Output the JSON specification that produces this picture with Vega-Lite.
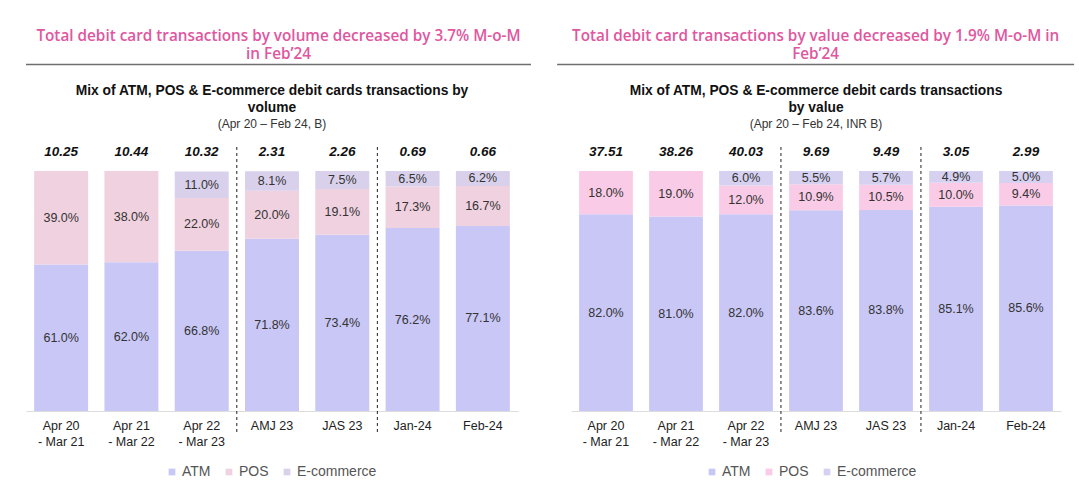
{
  "$schema": "https://vega.github.io/schema/vega-lite/v6.json",
  "background": "white",
  "padding": {"top": 28, "left": 25, "right": 6, "bottom": 5},
  "datasets": {
    "vol": [
      {"cat": "Apr 20 - Mar 21", "seg": "ATM", "share": 0.61},
      {"cat": "Apr 20 - Mar 21", "seg": "POS", "share": 0.39},
      {"cat": "Apr 21 - Mar 22", "seg": "ATM", "share": 0.62},
      {"cat": "Apr 21 - Mar 22", "seg": "POS", "share": 0.38},
      {"cat": "Apr 22 - Mar 23", "seg": "ATM", "share": 0.668},
      {"cat": "Apr 22 - Mar 23", "seg": "POS", "share": 0.22},
      {"cat": "Apr 22 - Mar 23", "seg": "E-commerce", "share": 0.11},
      {"cat": "AMJ 23", "seg": "ATM", "share": 0.718},
      {"cat": "AMJ 23", "seg": "POS", "share": 0.20},
      {"cat": "AMJ 23", "seg": "E-commerce", "share": 0.081},
      {"cat": "JAS 23", "seg": "ATM", "share": 0.734},
      {"cat": "JAS 23", "seg": "POS", "share": 0.191},
      {"cat": "JAS 23", "seg": "E-commerce", "share": 0.075},
      {"cat": "Jan-24", "seg": "ATM", "share": 0.762},
      {"cat": "Jan-24", "seg": "POS", "share": 0.173},
      {"cat": "Jan-24", "seg": "E-commerce", "share": 0.065},
      {"cat": "Feb-24", "seg": "ATM", "share": 0.771},
      {"cat": "Feb-24", "seg": "POS", "share": 0.167},
      {"cat": "Feb-24", "seg": "E-commerce", "share": 0.062}
    ],
    "volTot": [
      {"cat": "Apr 20 - Mar 21", "total": 10.25},
      {"cat": "Apr 21 - Mar 22", "total": 10.44},
      {"cat": "Apr 22 - Mar 23", "total": 10.32},
      {"cat": "AMJ 23", "total": 2.31},
      {"cat": "JAS 23", "total": 2.26},
      {"cat": "Jan-24", "total": 0.69},
      {"cat": "Feb-24", "total": 0.66}
    ],
    "val": [
      {"cat": "Apr 20 - Mar 21", "seg": "ATM", "share": 0.82},
      {"cat": "Apr 20 - Mar 21", "seg": "POS", "share": 0.18},
      {"cat": "Apr 21 - Mar 22", "seg": "ATM", "share": 0.81},
      {"cat": "Apr 21 - Mar 22", "seg": "POS", "share": 0.19},
      {"cat": "Apr 22 - Mar 23", "seg": "ATM", "share": 0.82},
      {"cat": "Apr 22 - Mar 23", "seg": "POS", "share": 0.12},
      {"cat": "Apr 22 - Mar 23", "seg": "E-commerce", "share": 0.06},
      {"cat": "AMJ 23", "seg": "ATM", "share": 0.836},
      {"cat": "AMJ 23", "seg": "POS", "share": 0.109},
      {"cat": "AMJ 23", "seg": "E-commerce", "share": 0.055},
      {"cat": "JAS 23", "seg": "ATM", "share": 0.838},
      {"cat": "JAS 23", "seg": "POS", "share": 0.105},
      {"cat": "JAS 23", "seg": "E-commerce", "share": 0.057},
      {"cat": "Jan-24", "seg": "ATM", "share": 0.851},
      {"cat": "Jan-24", "seg": "POS", "share": 0.10},
      {"cat": "Jan-24", "seg": "E-commerce", "share": 0.049},
      {"cat": "Feb-24", "seg": "ATM", "share": 0.856},
      {"cat": "Feb-24", "seg": "POS", "share": 0.094},
      {"cat": "Feb-24", "seg": "E-commerce", "share": 0.05}
    ],
    "valTot": [
      {"cat": "Apr 20 - Mar 21", "total": 37.51},
      {"cat": "Apr 21 - Mar 22", "total": 38.26},
      {"cat": "Apr 22 - Mar 23", "total": 40.03},
      {"cat": "AMJ 23", "total": 9.69},
      {"cat": "JAS 23", "total": 9.49},
      {"cat": "Jan-24", "total": 3.05},
      {"cat": "Feb-24", "total": 2.99}
    ],
    "seps": [
      {"cat": "Apr 22 - Mar 23"},
      {"cat": "JAS 23"}
    ],
    "line": [{"k": 0}]
  },
  "hconcat": [
    {
      "spacing": 18,
      "vconcat": [
        {
          "width": 505, "height": 1,
          "title": {"text": ["Total debit card transactions by volume decreased by 3.7% M-o-M", "in Feb\u201924"], "color": "#e0579f", "font": "Open Sans", "fontSize": 15.3, "fontWeight": 600, "lineHeight": 18.5, "anchor": "middle", "offset": 1},
          "data": {"name": "line"},
          "mark": {"type": "rule", "color": "#6e6e6e", "strokeWidth": 1.5},
          "encoding": {"y": {"field": "k", "type": "quantitative", "axis": null}}
        },
        {
          "width": 492, "height": 264,
          "title": {"text": ["Mix of ATM, POS & E-commerce debit cards transactions by", "volume"], "subtitle": "(Apr 20 \u2013 Feb 24, B)"},
          "encoding": {
            "x": {"field": "cat", "type": "nominal", "scale": {"domain": ["Apr 20 - Mar 21", "Apr 21 - Mar 22", "Apr 22 - Mar 23", "AMJ 23", "JAS 23", "Jan-24", "Feb-24"], "paddingInner": 0.232, "paddingOuter": 0.116}, "axis": {"title": null}}
          },
          "layer": [
            {
              "data": {"name": "vol"},
              "transform": [{"window": [{"op": "row_number", "as": "rank"}], "groupby": ["cat"]}],
              "mark": {"type": "bar"},
              "encoding": {
                "y": {"field": "share", "type": "quantitative", "stack": "zero", "scale": {"domain": [0, 1.1], "nice": false}, "axis": null},
                "order": {"field": "rank", "type": "quantitative", "sort": "ascending"},
                "color": {"field": "seg", "type": "nominal", "scale": {"domain": ["ATM", "POS", "E-commerce"], "range": ["#c9c7f6", "#f0d1df", "#d9d1ec"]}, "legend": {"title": null, "orient": "none", "legendX": 139, "legendY": 401}}
              }
            },
            {
              "data": {"name": "vol"},
              "transform": [{"window": [{"op": "row_number", "as": "rank"}], "groupby": ["cat"]}],
              "mark": {"type": "text", "font": "Liberation Sans", "fontSize": 12.5, "baseline": "middle", "color": "#333333"},
              "encoding": {
                "y": {"field": "share", "type": "quantitative", "stack": "zero", "bandPosition": 0.5},
                "order": {"field": "rank", "type": "quantitative", "sort": "ascending"},
                "detail": {"field": "seg", "type": "nominal"},
                "text": {"field": "share", "type": "quantitative", "format": ".1%"}
              }
            },
            {
              "data": {"name": "volTot"},
              "mark": {"type": "text", "font": "Liberation Sans", "fontSize": 13.5, "fontWeight": "bold", "fontStyle": "italic", "color": "#111111", "baseline": "middle"},
              "encoding": {
                "y": {"datum": 1.08, "type": "quantitative"},
                "text": {"field": "total", "type": "quantitative", "format": ".2f"}
              }
            },
            {
              "data": {"name": "seps"},
              "mark": {"type": "rule", "color": "#222222", "strokeDash": [3, 3], "strokeWidth": 1},
              "encoding": {
                "x": {"field": "cat", "type": "nominal", "bandPosition": 1.15},
                "y": {"datum": 1.1, "type": "quantitative"},
                "y2": {"datum": -0.09}
              }
            }
          ]
        }
      ]
    },
    {
      "spacing": 18,
      "center": true,
      "vconcat": [
        {
          "width": 517, "height": 1,
          "title": {"text": ["Total debit card transactions by value decreased by 1.9% M-o-M in", "Feb\u201924"], "color": "#e0579f", "font": "Open Sans", "fontSize": 15.3, "fontWeight": 600, "lineHeight": 18.5, "anchor": "middle", "offset": 1},
          "data": {"name": "line"},
          "mark": {"type": "rule", "color": "#6e6e6e", "strokeWidth": 1.5},
          "encoding": {"y": {"field": "k", "type": "quantitative", "axis": null}}
        },
        {
          "width": 490, "height": 264,
          "title": {"text": ["Mix of ATM, POS & E-commerce debit cards transactions", "by value"], "subtitle": "(Apr 20 \u2013 Feb 24, INR B)"},
          "encoding": {
            "x": {"field": "cat", "type": "nominal", "scale": {"domain": ["Apr 20 - Mar 21", "Apr 21 - Mar 22", "Apr 22 - Mar 23", "AMJ 23", "JAS 23", "Jan-24", "Feb-24"], "paddingInner": 0.232, "paddingOuter": 0.116}, "axis": {"title": null}}
          },
          "layer": [
            {
              "data": {"name": "val"},
              "transform": [{"window": [{"op": "row_number", "as": "rank"}], "groupby": ["cat"]}],
              "mark": {"type": "bar"},
              "encoding": {
                "y": {"field": "share", "type": "quantitative", "stack": "zero", "scale": {"domain": [0, 1.1], "nice": false}, "axis": null},
                "order": {"field": "rank", "type": "quantitative", "sort": "ascending"},
                "color": {"field": "seg", "type": "nominal", "scale": {"domain": ["ATM", "POS", "E-commerce"], "range": ["#c9c7f6", "#f9cbe6", "#d6d1f0"]}, "legend": {"title": null, "orient": "none", "legendX": 148, "legendY": 401}}
              }
            },
            {
              "data": {"name": "val"},
              "transform": [{"window": [{"op": "row_number", "as": "rank"}], "groupby": ["cat"]}],
              "mark": {"type": "text", "font": "Liberation Sans", "fontSize": 12.5, "baseline": "middle", "color": "#333333"},
              "encoding": {
                "y": {"field": "share", "type": "quantitative", "stack": "zero", "bandPosition": 0.5},
                "order": {"field": "rank", "type": "quantitative", "sort": "ascending"},
                "detail": {"field": "seg", "type": "nominal"},
                "text": {"field": "share", "type": "quantitative", "format": ".1%"}
              }
            },
            {
              "data": {"name": "valTot"},
              "mark": {"type": "text", "font": "Liberation Sans", "fontSize": 13.5, "fontWeight": "bold", "fontStyle": "italic", "color": "#111111", "baseline": "middle"},
              "encoding": {
                "y": {"datum": 1.08, "type": "quantitative"},
                "text": {"field": "total", "type": "quantitative", "format": ".2f"}
              }
            },
            {
              "data": {"name": "seps"},
              "mark": {"type": "rule", "color": "#222222", "strokeDash": [3, 3], "strokeWidth": 1},
              "encoding": {
                "x": {"field": "cat", "type": "nominal", "bandPosition": 1.15},
                "y": {"datum": 1.1, "type": "quantitative"},
                "y2": {"datum": -0.09}
              }
            }
          ]
        }
      ]
    }
  ],
  "spacing": 24,
  "resolve": {"scale": {"color": "independent", "x": "independent", "y": "independent"}, "legend": {"color": "independent"}},
  "config": {
    "view": {"stroke": null},
    "font": "Liberation Sans",
    "title": {"font": "Liberation Sans", "fontSize": 13.8, "fontWeight": "bold", "color": "#111111", "lineHeight": 17, "subtitleFont": "Liberation Sans", "subtitleFontSize": 12, "subtitleColor": "#333333", "subtitlePadding": 4, "anchor": "middle", "offset": 15},
    "axisX": {"labelAngle": 0, "labelFontSize": 12.5, "labelColor": "#222222", "labelFont": "Liberation Sans", "ticks": false, "domainColor": "#dddddd", "labelPadding": 8, "labelLineHeight": 16, "labelExpr": "length(datum.label) > 8 ? [slice(datum.label, 0, 6), slice(datum.label, 7)] : datum.label"},
    "legend": {"direction": "horizontal", "symbolType": "square", "symbolSize": 45, "symbolStrokeWidth": 0, "labelFontSize": 14, "labelColor": "#555555", "labelFont": "Liberation Sans", "columnPadding": 11, "symbolOffset": 0, "labelOffset": 3}
  }
}
